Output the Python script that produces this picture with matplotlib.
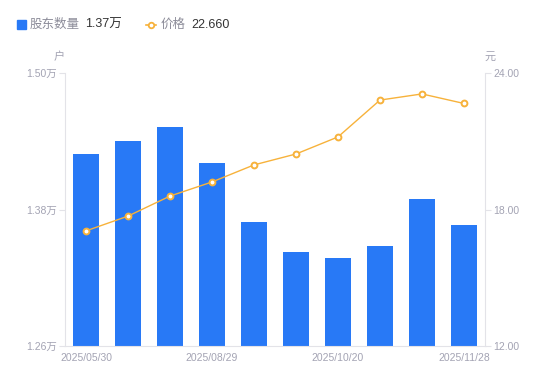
import numpy as np
import matplotlib
matplotlib.use("Agg")
import matplotlib.pyplot as plt

plt.rcParams['font.family'] = ['Liberation Sans', 'Noto Sans CJK SC', 'DejaVu Sans']

# %% data
dates = ["2025/05/30", "2025/06/30", "2025/07/31", "2025/08/29", "2025/09/10",
         "2025/09/30", "2025/10/20", "2025/10/31", "2025/11/10", "2025/11/28"]
holders = [1.429, 1.440, 1.4525, 1.421, 1.369, 1.3426, 1.3374, 1.348, 1.389, 1.366]  # 万户
price = [17.06, 17.71, 18.59, 19.21, 19.96, 20.44, 21.19, 22.81, 23.08, 22.66]
left_ticks = [1.26, 1.38, 1.50]
right_ticks = [12.0, 18.0, 24.0]

bar_color = "#2879F6"
line_color = "#F7B23B"
grid_color = "#E3E3E8"
tick_color = "#A3A3B3"

# %% figure
fig = plt.figure(figsize=(5.5, 3.81), dpi=100)
ax = fig.add_axes([65 / 550, 1 - 346 / 381, 420 / 550, 273 / 381])
ax2 = ax.twinx()

x = np.arange(len(dates))
ax.bar(x, holders, width=0.6, color=bar_color, zorder=2)
ax.set_ylim(left_ticks[0], left_ticks[-1])
ax.set_xlim(-0.5, len(dates) - 0.5)
ax.set_yticks(left_ticks)
ax.set_yticklabels([f"{v:.2f}万" for v in left_ticks])

ax2.plot(x, price, color=line_color, lw=1, marker="o", ms=4.2,
         mfc="white", mec=line_color, mew=1.4, zorder=3)
ax2.set_ylim(right_ticks[0], right_ticks[-1])
ax2.set_yticks(right_ticks)
ax2.set_yticklabels([f"{v:.2f}" for v in right_ticks])

shown = [0, 3, 6, 9]
ax.set_xticks(shown)
ax.set_xticklabels([dates[i] for i in shown])

for a in (ax, ax2):
    for s in a.spines.values():
        s.set_visible(False)
    a.tick_params(colors=tick_color, labelsize=7.5, length=4, width=0.8, pad=2)
    a.tick_params(axis="y", color=grid_color)
ax.tick_params(axis="x", length=0, pad=5)
ax.spines["left"].set_visible(True)
ax.spines["bottom"].set_visible(True)
ax.spines["left"].set_color(grid_color)
ax.spines["bottom"].set_color(grid_color)
ax2.spines["right"].set_visible(True)
ax2.spines["right"].set_color(grid_color)

# axis units
fig.text(59 / 550, 1 - 57 / 381, "户", color=tick_color, fontsize=8, ha="center", va="center")
fig.text(490 / 550, 1 - 57 / 381, "元", color=tick_color, fontsize=8, ha="center", va="center")

# legend header
ly = 1 - 24.5 / 381
fig.patches.append(plt.Rectangle((17 / 550, 1 - 29 / 381), 9 / 550, 9 / 381,
                                 transform=fig.transFigure, color=bar_color))
fig.text(30 / 550, ly, "股东数量", color="#8C8C99", fontsize=9, va="center")
fig.text(85 / 550, ly, f"{holders[-1]:.2f}万", color="#333333", fontsize=9, va="center")
fig.lines.append(plt.Line2D([146 / 550, 151 / 550, 156 / 550], [ly] * 3, transform=fig.transFigure,
                            color=line_color, lw=1.2, marker="o", ms=4, mfc="white",
                            mec=line_color, mew=1.3, markevery=[1]))
fig.text(161 / 550, ly, "价格", color="#8C8C99", fontsize=9, va="center")
fig.text(191 / 550, ly, f"{price[-1]:.3f}", color="#333333", fontsize=9, va="center")

fig.savefig("out.png", dpi=100)
